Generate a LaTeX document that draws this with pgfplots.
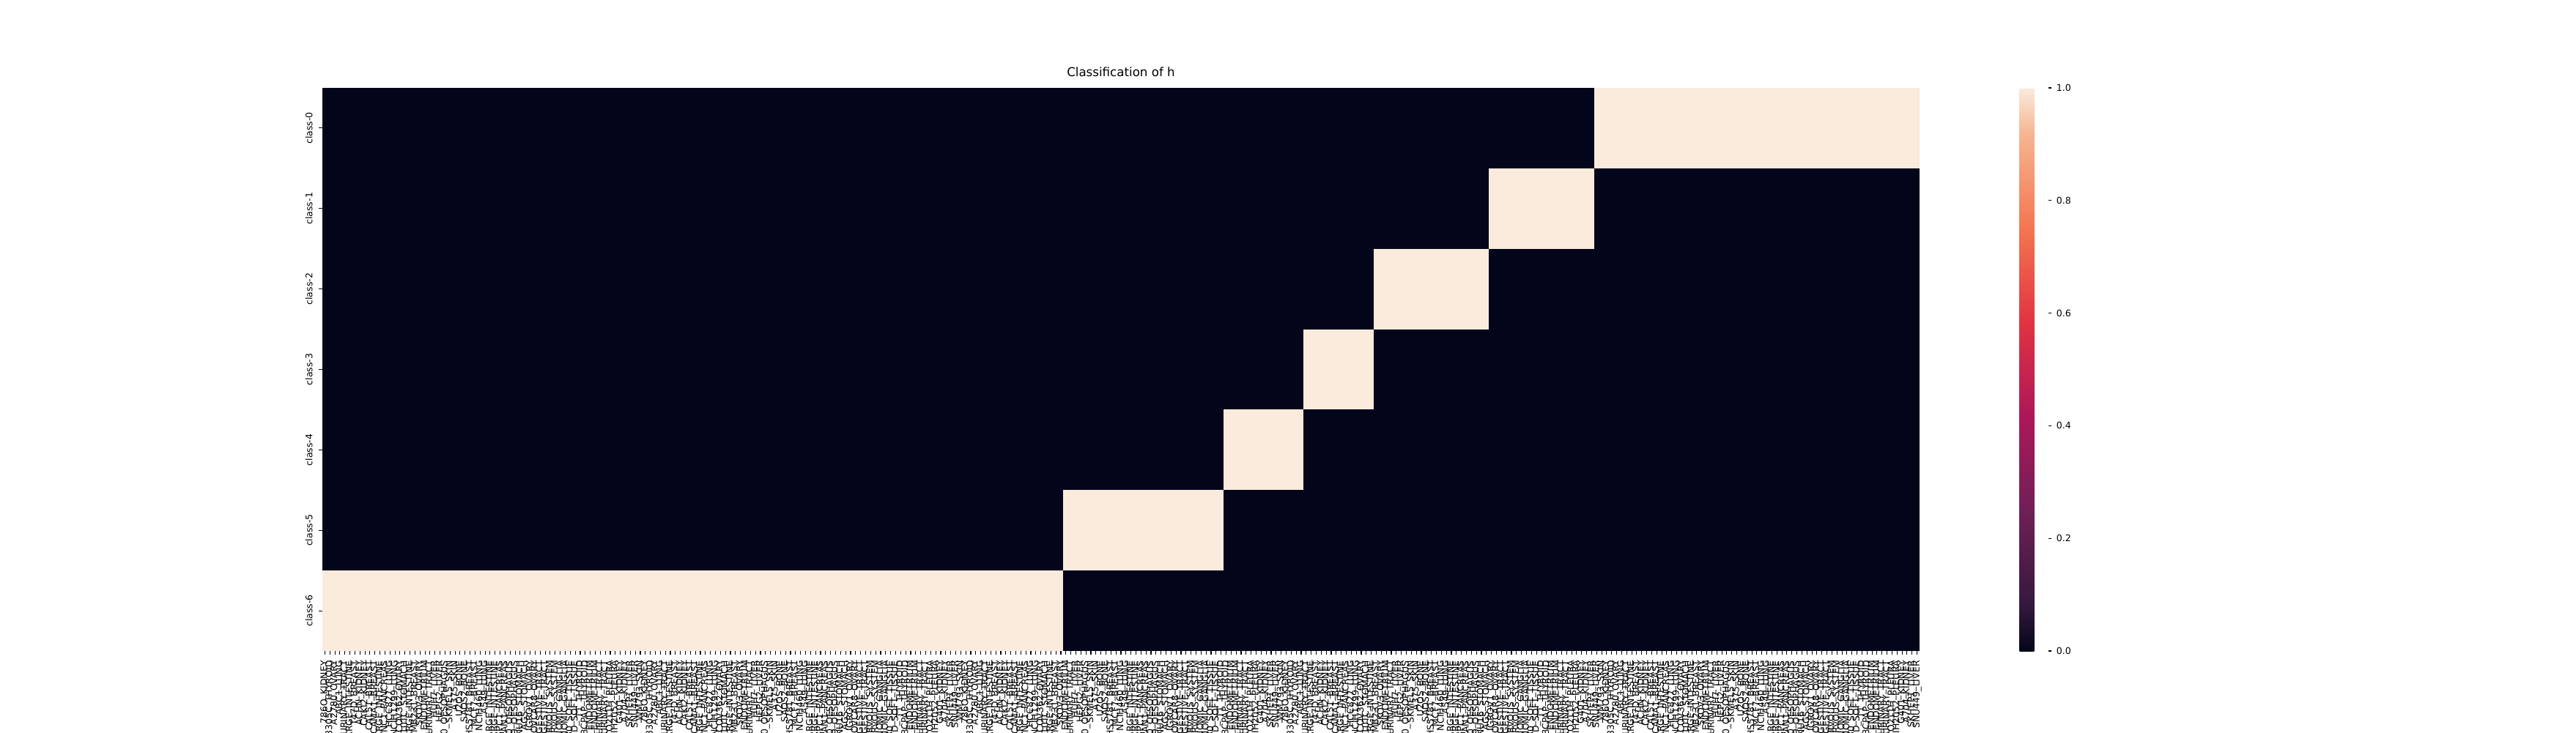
\documentclass[border=0pt]{standalone}
\usepackage{pgfplots}
\pgfplotsset{compat=1.18}
\usepackage{fontspec}
\setmainfont{DejaVu Sans}
\definecolor{rkdark}{RGB}{3,5,26}
\definecolor{rkcream}{RGB}{250,235,221}
\newcommand\cellname[1]{\ifcase#1 786O\_KIDNEY\or 8305C\_THYROID\or A2780\_OVARY\or ABC1\_LUNG\or 5637\_URINARY\_TRACT\or HT29\_LARGE\_INTESTINE\or T47D\_BREAST\or ACHN\_KIDNEY\or CAKI2\_KIDNEY\or CAL51\_BREAST\or CAMA1\_BREAST\or SW480\_LARGE\_INTESTINE\or PANC1\_PANCREAS\or HCC827\_LUNG\or NCIH1299\_LUNG\or COV362\_OVARY\or SH10TC\_STOMACH\or HCT116\_LARGE\_INTESTINE\or MDAMB231\_BREAST\or SKOV3\_OVARY\or HEC1A\_ENDOMETRIUM\or RT4\_URINARY\_TRACT\or HUH7\_LIVER\or HEPG2\_LIVER\or KYSE30\_OESOPHAGUS\or SKMEL5\_SKIN\or A375\_SKIN\or U2OS\_BONE\or SAOS2\_BONE\or HS578T\_BREAST\or MCF7\_BREAST\or NCIH460\_LUNG\or A549\_LUNG\or DLD1\_LARGE\_INTESTINE\or LOVO\_LARGE\_INTESTINE\or ASPC1\_PANCREAS\or CAPAN1\_PANCREAS\or KYSE150\_OESOPHAGUS\or OE19\_OESOPHAGUS\or SNU16\_STOMACH\or AGS\_STOMACH\or IGROV1\_OVARY\or OVCAR8\_OVARY\or CAL27\_UPPER\_AERODIGESTIVE\_TRACT\or FADU\_UPPER\_AERODIGESTIVE\_TRACT\or U87MG\_CENTRAL\_NERVOUS\_SYSTEM\or SF295\_CENTRAL\_NERVOUS\_SYSTEM\or SKNSH\_AUTONOMIC\_GANGLIA\or KELLY\_AUTONOMIC\_GANGLIA\or HT1080\_SOFT\_TISSUE\or RD\_SOFT\_TISSUE\or TT\_THYROID\or BCPAP\_THYROID\or ISHIKAWAHERAKLIO02ER\_ENDOMETRIUM\or AN3CA\_ENDOMETRIUM\or J82\_URINARY\_TRACT\or TCCSUP\_URINARY\_TRACT\or MSTO211H\_PLEURA\or NCIH2052\_PLEURA\or G401\_KIDNEY\or A704\_KIDNEY\or SKHEP1\_LIVER\or SNU449\_LIVER\or WM793\_SKIN\fi}
\begin{document}
\begin{tikzpicture}
\path[use as bounding box] (-316.8pt,-79.92pt) rectangle (2214.72pt,640.08pt);
\begin{axis}[
  at={(0,0)}, anchor=south west,
  scale only axis,
  width=1569.6pt, height=553.68pt,
  xmin=-0.5, xmax=318.5, ymin=-0.5, ymax=6.5,
  y dir=reverse,
  axis line style={draw=none},
  tick align=outside,
  major tick length=3.5pt,
  tick style={black, line width=0.8pt},
  xtick pos=bottom, ytick pos=left,
  xtick={0,...,318},
  xticklabel={\pgfmathtruncatemacro\k{mod(\ticknum,64)}\cellname{\k}},
  xticklabel style={rotate=90, anchor=east, inner sep=0pt, xshift=-5.8pt, font=\fontsize{9}{10}\selectfont},
  ytick={0,...,6},
  yticklabels={class-0,class-1,class-2,class-3,class-4,class-5,class-6},
  yticklabel style={rotate=90, anchor=south, inner sep=0pt, yshift=6pt, font=\fontsize{9}{10}\selectfont},
  title={Classification of h},
  title style={at={(0.5,1)}, anchor=base, yshift=5.3pt, inner sep=0pt, font=\fontsize{12}{14}\selectfont},
  colormap={rocket}{rgb255(0cm)=(3,5,26); rgb255(1cm)=(53,25,62); rgb255(3cm)=(112,31,87); rgb255(5cm)=(173,23,89); rgb255(7cm)=(225,51,66); rgb255(9cm)=(243,118,81); rgb255(11cm)=(246,180,143); rgb255(12cm)=(250,235,221)},
  point meta min=0, point meta max=1,
  colorbar,
  colorbar style={
    at={(parent axis.north east)}, anchor=north west, xshift=89.8pt,
    scale only axis,
    width=28.08pt, height=553.68pt,
    axis line style={draw=none},
    ytick={0,0.2,0.4,0.6,0.8,1.0},
    ytick pos=right, yticklabel pos=right,
    tick align=outside, major tick length=3.5pt,
    tick style={black, line width=0.8pt},
    yticklabel style={/pgf/number format/fixed, /pgf/number format/fixed zerofill, /pgf/number format/precision=1, /pgf/number format/assume math mode=true, anchor=west, inner sep=0pt, xshift=4.4pt, font=\fontsize{9}{10}\selectfont},
  },
]
% background: value 0 everywhere
\addplot[fill=rkdark, draw=none] coordinates {(-0.5,-0.5) (318.5,-0.5) (318.5,6.5) (-0.5,6.5)} -- cycle;
% value 1 blocks: class row, first and last column
% class-6: columns 0-147
\addplot[fill=rkcream, draw=none] coordinates {(-0.5,5.5) (147.5,5.5) (147.5,6.5) (-0.5,6.5)} -- cycle;
% class-5: columns 148-179
\addplot[fill=rkcream, draw=none] coordinates {(147.5,4.5) (179.5,4.5) (179.5,5.5) (147.5,5.5)} -- cycle;
% class-4: columns 180-195
\addplot[fill=rkcream, draw=none] coordinates {(179.5,3.5) (195.5,3.5) (195.5,4.5) (179.5,4.5)} -- cycle;
% class-3: columns 196-209
\addplot[fill=rkcream, draw=none] coordinates {(195.5,2.5) (209.5,2.5) (209.5,3.5) (195.5,3.5)} -- cycle;
% class-2: columns 210-232
\addplot[fill=rkcream, draw=none] coordinates {(209.5,1.5) (232.5,1.5) (232.5,2.5) (209.5,2.5)} -- cycle;
% class-1: columns 233-253
\addplot[fill=rkcream, draw=none] coordinates {(232.5,0.5) (253.5,0.5) (253.5,1.5) (232.5,1.5)} -- cycle;
% class-0: columns 254-318
\addplot[fill=rkcream, draw=none] coordinates {(253.5,-0.5) (318.5,-0.5) (318.5,0.5) (253.5,0.5)} -- cycle;
\end{axis}
\end{tikzpicture}
\end{document}
